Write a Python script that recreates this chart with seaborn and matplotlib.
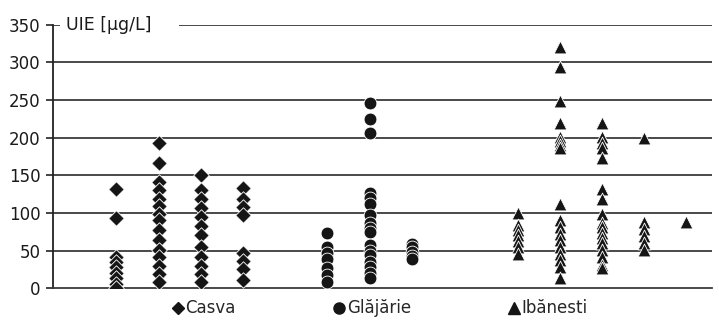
import matplotlib
matplotlib.use("Agg")
import matplotlib.pyplot as plt
from matplotlib.lines import Line2D
import pandas as pd
import seaborn as sns

# column positions on the category strip
casva_x = [1.5, 2.5, 3.5, 4.5]
glajarie_x = [6.5, 7.5, 8.5]
ibanesti_x = [11, 12, 13, 14, 15]

casva_vals = [
    [132, 93, 42, 35, 28, 20, 13, 5, 0],
    [193, 166, 141, 130, 119, 109, 99, 90, 77, 64, 51, 41, 29, 19, 8],
    [150, 131, 119, 106, 94, 82, 70, 55, 42, 30, 19, 8],
    [133, 118, 108, 97, 47, 36, 25, 11],
]
glajarie_vals = [
    [73, 55, 47, 39, 27, 17, 8],
    [246, 225, 206, 126, 120, 112, 97, 86, 80, 75, 57, 50, 44, 35, 28, 20, 13],
    [59, 55, 48, 43, 39],
]
ibanesti_vals = [
    [100, 84, 77, 70, 63, 55, 45],
    [320, 294, 249, 219, 201, 195, 190, 186, 112, 91, 81, 72, 64, 55, 46, 37, 28, 13],
    [219, 201, 193, 186, 173, 132, 119, 98, 87, 81, 73, 67, 60, 51, 42, 31, 27],
    [200, 88, 78, 69, 60, 51],
    [88],
]

sites = ["Casva", "Glăjărie", "Ibănesti"]

rows = []
for site, xs, cols in zip(sites, [casva_x, glajarie_x, ibanesti_x],
                          [casva_vals, glajarie_vals, ibanesti_vals]):
    for x, vals in zip(xs, cols):
        for v in vals:
            rows.append({"x": x, "UIE": v, "site": site})
df = pd.DataFrame(rows)

sns.set_style("white")
plt.rcParams["font.family"] = ["DejaVu Sans"]

fig = plt.figure(figsize=(7.19, 3.23), dpi=100)
ax = fig.add_axes([0.0737, 0.108, 0.9163, 0.815])

for y in range(50, 351, 50):
    ax.axhline(y, color="#3a3a3a", lw=1.3, zorder=0)

markers = {"Casva": "D", "Glăjărie": "o", "Ibănesti": "^"}
sizes = {"Casva": 62, "Glăjărie": 85, "Ibănesti": 85}
for site in sites:
    sub = df[df.site == site]
    sns.scatterplot(data=sub, x="x", y="UIE", marker=markers[site], s=sizes[site],
                    color="#151515", edgecolor="white", linewidth=0.6,
                    ax=ax, legend=False, zorder=3)

ax.set_xlim(0, 15.6)
ax.set_ylim(0, 350)
ax.set_yticks(range(0, 351, 50))
ax.set_xticks([])
ax.set_xlabel("")
ax.set_ylabel("")
for s in ["top", "right"]:
    ax.spines[s].set_visible(False)
ax.spines["left"].set_color("#222222")
ax.spines["left"].set_linewidth(1.3)
ax.spines["bottom"].set_color("#3a3a3a")
ax.spines["bottom"].set_linewidth(1.3)
ax.tick_params(axis="y", direction="out", length=5, width=1.2, color="#222222",
               labelsize=12, labelcolor="#1a1a1a", left=True, pad=4)

ax.text(0.3, 350, "UIE [µg/L]    ", fontsize=12.5, color="#1a1a1a", va="center",
        ha="left", zorder=5,
        bbox=dict(facecolor="white", edgecolor="none", pad=4))

legend_sizes = {"Casva": 6, "Glăjărie": 8, "Ibănesti": 8}
handles = [Line2D([], [], ls="none", marker=markers[s], markersize=legend_sizes[s],
                  color="#151515") for s in sites]
fig.legend(handles, sites, loc="center", bbox_to_anchor=(0.528, 0.045), ncol=3,
           frameon=False, fontsize=12, handletextpad=0.05, handlelength=0.8,
           columnspacing=5.8)

fig.savefig("out.png", dpi=100)
